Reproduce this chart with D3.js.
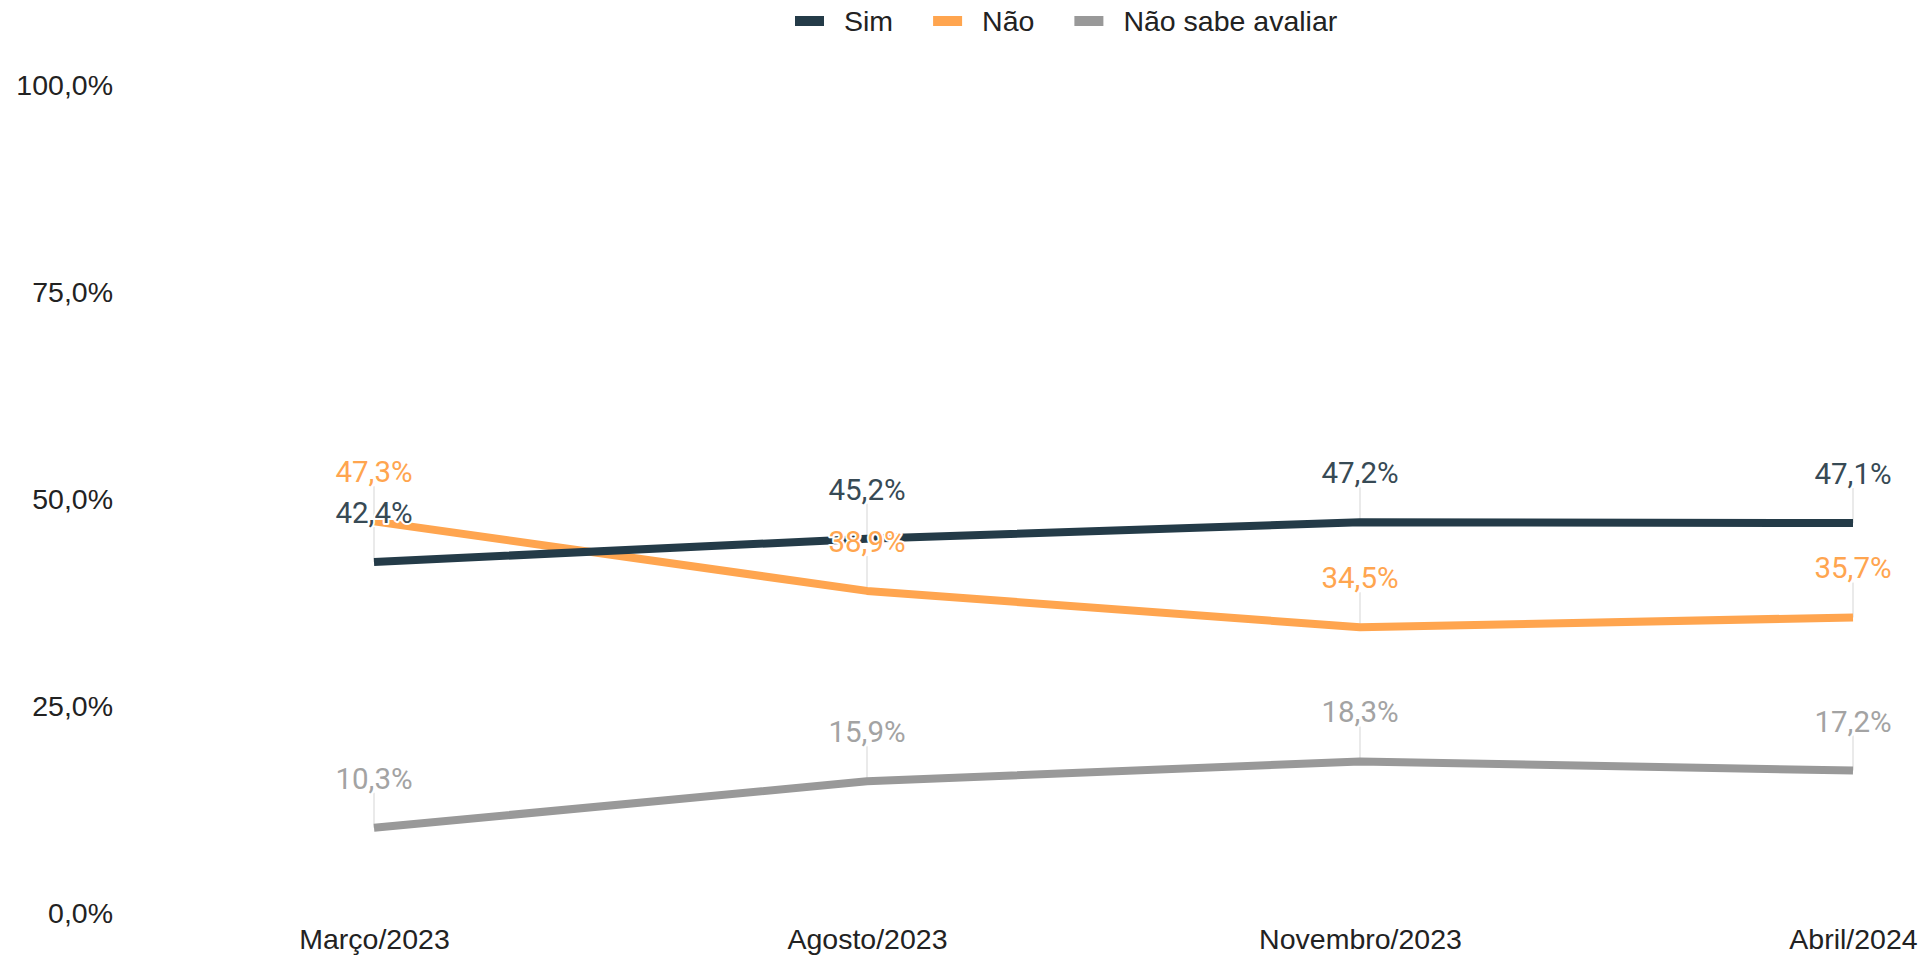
<!DOCTYPE html>
<html>
<head>
<meta charset="utf-8">
<script src="https://cdn.jsdelivr.net/npm/d3@7"></script>
<style>
  html, body { margin: 0; padding: 0; background: #fff; }
  svg { display: block; }
</style>
</head>
<body>
<div id="chart"></div>
<script>
  // survey waves
  const periods = ["Março/2023", "Agosto/2023", "Novembro/2023", "Abril/2024"];
  const sim = [42.4, 45.2, 47.2, 47.1];
  const nao = [47.3, 38.9, 34.5, 35.7];
  const naoSabe = [10.3, 15.9, 18.3, 17.2];
  const yTicks = [0, 25, 50, 75, 100];

  const series = [
    { name: "Sim", values: sim, color: "#243b48", label: "#374a55" },
    { name: "Não", values: nao, color: "#ffa54f", label: "#ffa54f" },
    { name: "Não sabe avaliar", values: naoSabe, color: "#999999", label: "#a3a3a3" },
  ];

  const width = 1924, height = 957;

  const x = d3.scalePoint().domain(periods).range([374, 1853]);
  const y = d3.scaleLinear().domain([0, 100]).range([913, 85]);
  const fmt = (v) => d3.format(".1f")(v).replace(".", ",") + "%";

  const svg = d3.select("#chart")
    .append("svg")
    .attr("width", width)
    .attr("height", height)
    .attr("viewBox", [0, 0, width, height]);

  // y axis, labels only
  const yAxis = svg.append("g")
    .attr("transform", "translate(113,0)")
    .call(d3.axisLeft(y).tickValues(yTicks).tickFormat(fmt).tickSize(0).tickPadding(0));
  yAxis.select(".domain").remove();
  yAxis.selectAll("text")
    .attr("fill", "#222")
    .style("font", "28.5px 'Liberation Sans', Arial, sans-serif");

  // x axis, labels only
  const xAxis = svg.append("g")
    .attr("transform", "translate(0,929)")
    .call(d3.axisBottom(x).tickSize(0).tickPadding(0));
  xAxis.select(".domain").remove();
  xAxis.selectAll("text")
    .attr("fill", "#222")
    .attr("dy", "0.71em")
    .style("font", "28.5px 'Liberation Sans', Arial, sans-serif");

  const line = d3.line()
    .x((d, i) => x(periods[i]))
    .y((d) => y(d));

  // leader lines from each point up towards its label
  series.forEach((s) => {
    svg.append("g")
      .selectAll("line")
      .data(s.values)
      .join("line")
      .attr("x1", (d, i) => x(periods[i]))
      .attr("x2", (d, i) => x(periods[i]))
      .attr("y1", (d) => y(d))
      .attr("y2", (d) => y(d) - 35)
      .attr("stroke", "#e3e3e3")
      .attr("stroke-width", 1.5);
  });

  // lines, drawn in reverse so Sim sits on top
  svg.append("g")
    .selectAll("path")
    .data(series.slice().reverse())
    .join("path")
    .attr("d", (s) => line(s.values))
    .attr("fill", "none")
    .attr("stroke", (s) => s.color)
    .attr("stroke-width", 8)
    .attr("stroke-linejoin", "round");

  // data labels with white halo
  series.forEach((s) => {
    svg.append("g")
      .selectAll("text")
      .data(s.values)
      .join("text")
      .attr("x", (d, i) => x(periods[i]))
      .attr("y", (d) => y(d) - 39)
      .attr("text-anchor", "middle")
      .attr("fill", s.label)
      .attr("stroke", "#fff")
      .attr("stroke-width", 4)
      .attr("stroke-linejoin", "round")
      .attr("paint-order", "stroke")
      .style("font", "29.5px Roboto, sans-serif")
      .text((d) => fmt(d));
  });

  // legend
  const legend = svg.append("g").attr("transform", "translate(795,0)");
  let lx = 0;
  series.forEach((s) => {
    const item = legend.append("g").attr("transform", `translate(${lx},0)`);
    item.append("rect")
      .attr("x", 0)
      .attr("y", 16)
      .attr("width", 29)
      .attr("height", 10)
      .attr("fill", s.color);
    const t = item.append("text")
      .attr("x", 49)
      .attr("y", 31)
      .attr("fill", "#222")
      .style("font", "28.5px 'Liberation Sans', Arial, sans-serif")
      .text(s.name);
    lx += 49 + t.node().getComputedTextLength() + 40;
  });
</script>
</body>
</html>
